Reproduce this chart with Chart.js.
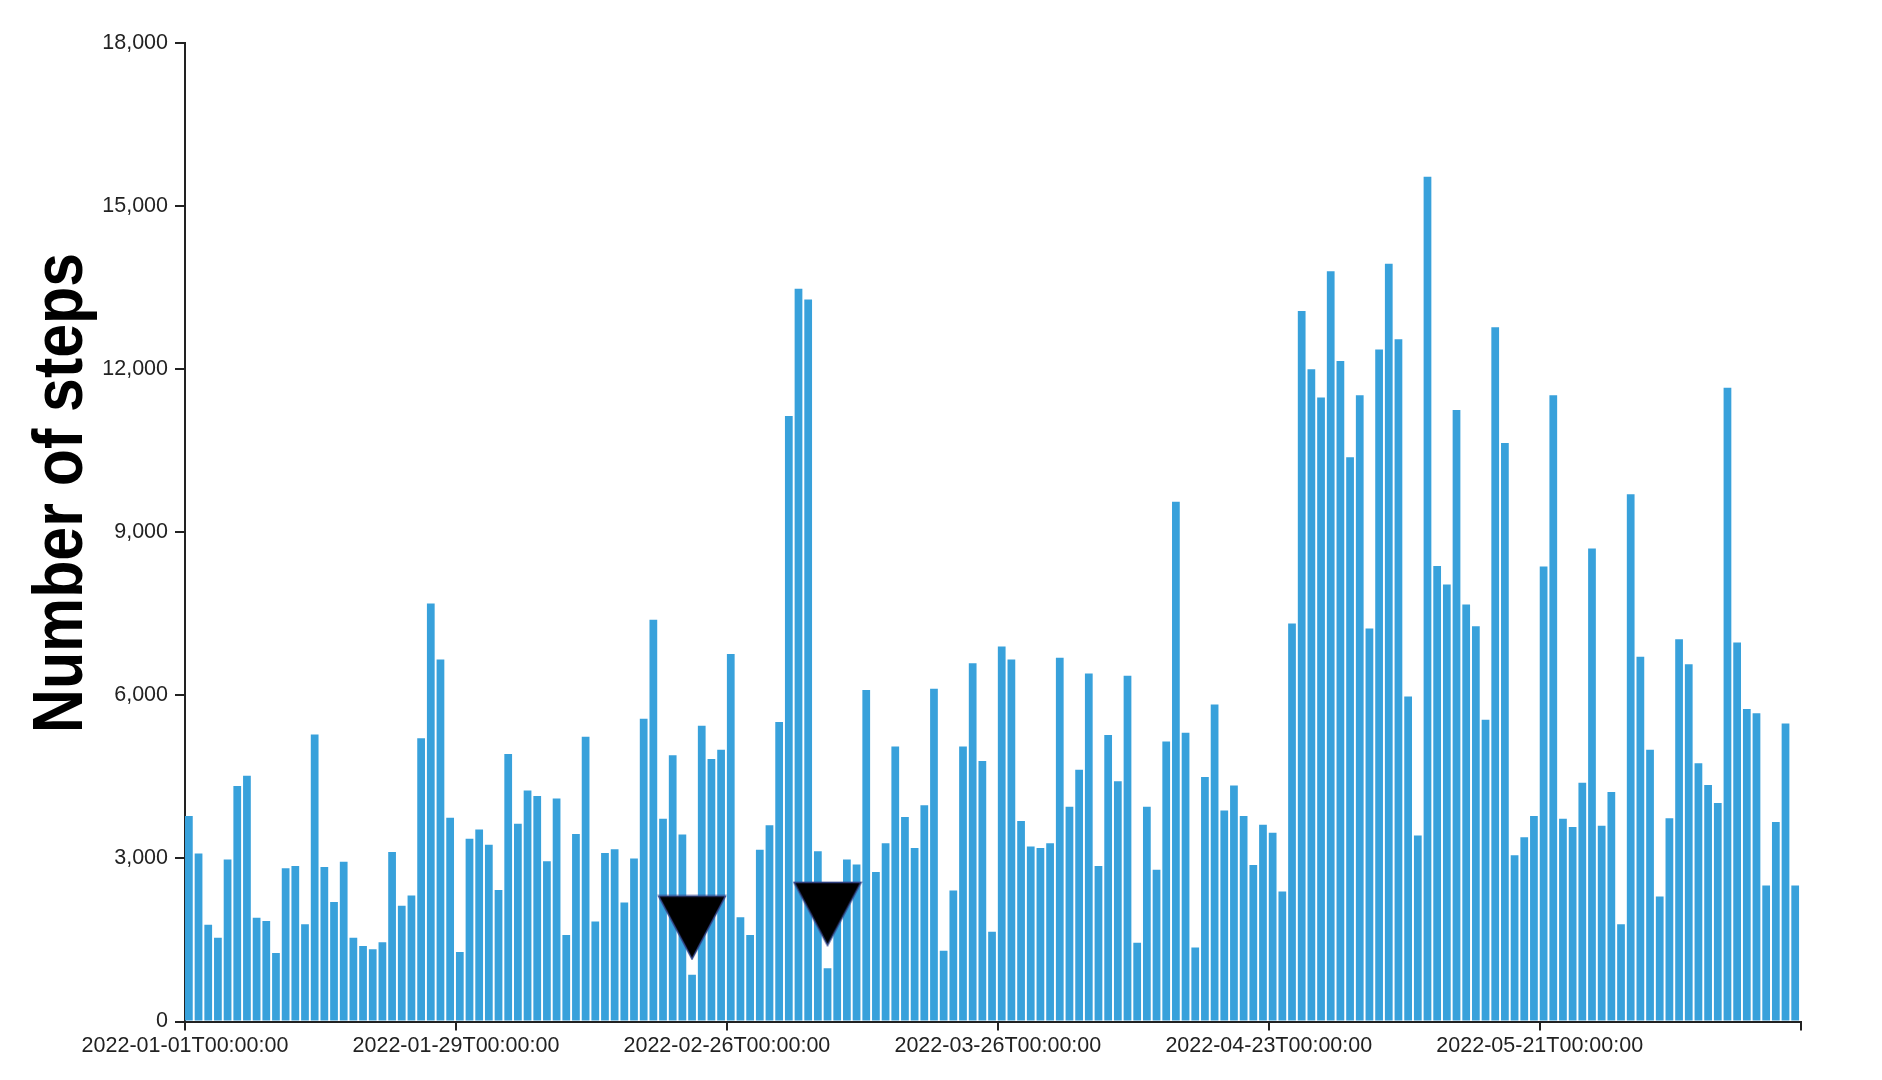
<!DOCTYPE html>
<html>
<head>
<meta charset="utf-8">
<script src="https://cdn.jsdelivr.net/npm/chart.js@4/dist/chart.umd.min.js"></script>
<style>
  html, body { margin: 0; padding: 0; background: #fff; }
  canvas { display: block; }
</style>
</head>
<body>
<canvas id="grafico" width="1882" height="1080"></canvas>
<script>
// Datos: pasos diarios desde el 2022-01-01
const startDate = '2022-01-01';
const steps = [
  3780, 3090, 1780, 1540, 2980, 4330, 4520, 1910, 1850, 1260,
  2820, 2860, 1790, 5280, 2840, 2200, 2940, 1540, 1390, 1330,
  1460, 3120, 2130, 2320, 5210, 7690, 6660, 3750, 1280, 3360,
  3530, 3250, 2420, 4920, 3640, 4250, 4150, 2950, 4100, 1590,
  3450, 5240, 1840, 3100, 3170, 2190, 3000, 5570, 7390, 3730,
  4900, 3440, 860, 5440, 4830, 5000, 6760, 1920, 1590, 3160,
  3610, 5510, 11140, 13480, 13280, 3130, 980, 2100, 2980, 2890,
  6100, 2750, 3280, 5060, 3760, 3190, 3980, 6120, 1300, 2410,
  5060, 6590, 4790, 1650, 6900, 6660, 3690, 3220, 3190, 3280,
  6690, 3950, 4630, 6400, 2860, 5270, 4420, 6360, 1450, 3950,
  2790, 5150, 9560, 5310, 1360, 4500, 5830, 3880, 4340, 3780,
  2880, 3620, 3470, 2390, 7320, 13070, 12000, 11480, 13800, 12150,
  10380, 11520, 7230, 12360, 13940, 12550, 5980, 3420, 15540, 8380,
  8040, 11250, 7670, 7270, 5550, 12770, 10640, 3060, 3390, 3780,
  8370, 11520, 3730, 3580, 4390, 8700, 3600, 4220, 1790, 9700,
  6710, 5000, 2300, 3740, 7030, 6570, 4750, 4350, 4020, 11660,
  6970, 5750, 5670, 2500, 3670, 5480, 2500
];
const tickLabels = [
  '2022-01-01T00:00:00', '2022-01-29T00:00:00', '2022-02-26T00:00:00',
  '2022-03-26T00:00:00', '2022-04-23T00:00:00', '2022-05-21T00:00:00'
];
const yTicks = [0, 3000, 6000, 9000, 12000, 15000, 18000];
// Marcadores (triángulos negros)
const markerDates = ['2022-02-22', '2022-03-08'];
const markerValues = [1730, 1980];

const dayMs = 86400000;
const start = Date.parse(startDate + 'T00:00:00Z');
const dates = steps.map((_, i) => new Date(start + i * dayMs).toISOString().slice(0, 10));
const tickIndex = tickLabels.map(l => dates.indexOf(l.slice(0, 10)));
const nDays = dates.length;

// Triángulo como imagen de punto
const tri = document.createElement('canvas');
tri.width = 70; tri.height = 66;
const tctx = tri.getContext('2d');
tctx.beginPath();
tctx.moveTo(1.5, 1.5);
tctx.lineTo(68.5, 1.5);
tctx.lineTo(35, 64.5);
tctx.closePath();
tctx.fillStyle = '#000';
tctx.fill();
tctx.lineWidth = 1.5;
tctx.strokeStyle = '#34468a';
tctx.stroke();

// Título del eje Y
const yTitle = {
  id: 'yTitle',
  afterDraw(chart) {
    const ctx = chart.ctx;
    const text = 'Number of steps';
    ctx.save();
    ctx.font = 'bold 70px "Liberation Sans Narrow", "Liberation Sans", Arial, sans-serif';
    const w = ctx.measureText(text).width;
    ctx.translate(82, 493);
    ctx.rotate(-Math.PI / 2);
    ctx.scale(480 / w, 1);
    ctx.fillStyle = '#000';
    ctx.textAlign = 'center';
    ctx.textBaseline = 'alphabetic';
    ctx.fillText(text, 0, 0);
    ctx.restore();
  }
};

const axisColor = '#222';
const tickFont = { family: '"Liberation Sans", Arial, sans-serif', size: 21.5 };

const config = {
  type: 'bar',
  data: {
    datasets: [
      {
        type: 'scatter',
        data: markerDates.map((d, k) => ({ x: dates.indexOf(d) + 0.4, y: markerValues[k] })),
        pointStyle: tri,
        order: 0
      },
      {
        type: 'bar',
        data: steps.map((v, i) => ({ x: i + 0.4, y: v })),
        backgroundColor: '#38a1db',
        borderWidth: 0,
        barPercentage: 0.8,
        categoryPercentage: 1,
        order: 1
      }
    ]
  },
  options: {
    responsive: false,
    animation: false,
    devicePixelRatio: 1,
    layout: { padding: { top: 43, right: 81, bottom: 0, left: 0 } },
    plugins: { legend: { display: false }, tooltip: { enabled: false } },
    scales: {
      x: {
        type: 'linear',
        offset: false,
        min: 0,
        max: nDays,
        afterBuildTicks: axis => {
          axis.ticks = tickIndex.concat([nDays]).map(v => ({ value: v }));
        },
        afterFit: scale => { scale.height = 58.5; },
        ticks: {
          autoSkip: false,
          maxRotation: 0,
          padding: 3,
          color: '#222',
          font: tickFont,
          callback: v => {
            const k = tickIndex.indexOf(v);
            return k >= 0 ? tickLabels[k] : '';
          }
        },
        grid: { offset: false, drawOnChartArea: false, drawTicks: true, tickLength: 9, color: axisColor, lineWidth: 2 },
        border: { display: true, color: axisColor, width: 2 }
      },
      y: {
        type: 'linear',
        min: 0,
        max: 18000,
        afterBuildTicks: axis => {
          axis.ticks = yTicks.map(v => ({ value: v }));
        },
        afterFit: scale => { scale.width = 185; },
        ticks: {
          padding: 7,
          color: '#222',
          font: tickFont,
          callback: v => v.toLocaleString('en-US')
        },
        grid: { drawOnChartArea: false, drawTicks: true, tickLength: 10, color: axisColor, lineWidth: 2 },
        border: { display: true, color: axisColor, width: 2 }
      }
    }
  },
  plugins: [yTitle]
};

const ctx = document.getElementById('grafico').getContext('2d');
new Chart(ctx, config);
</script>
</body>
</html>
